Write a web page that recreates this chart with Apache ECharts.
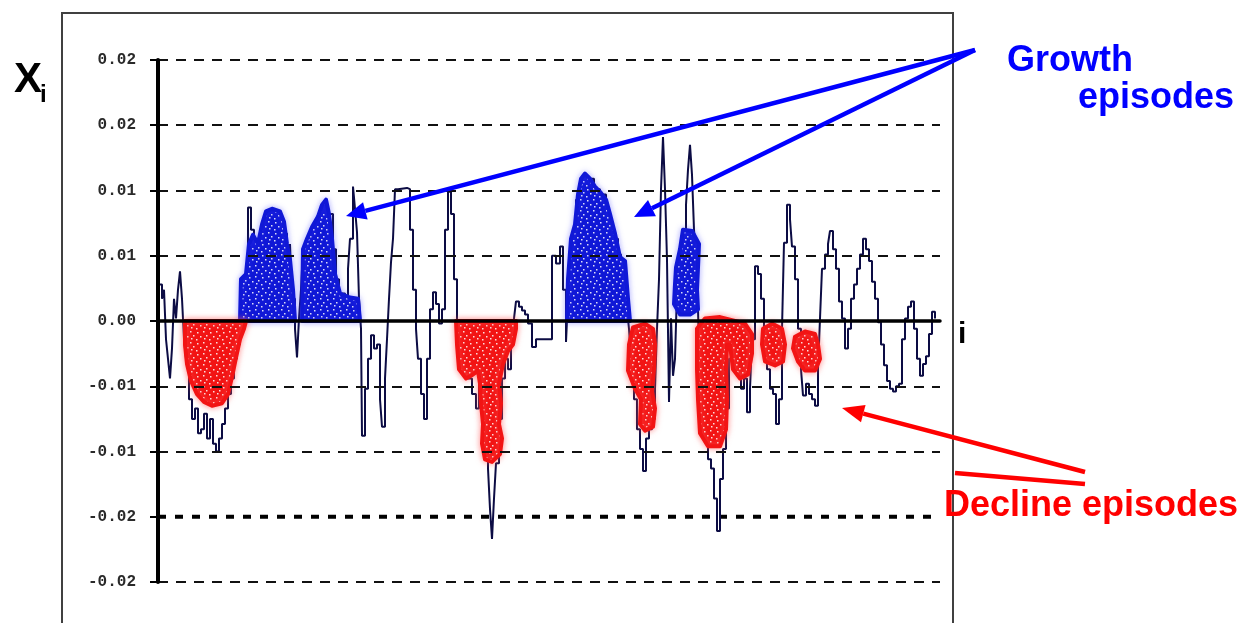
<!DOCTYPE html>
<html>
<head>
<meta charset="utf-8">
<script src="https://cdn.jsdelivr.net/npm/echarts@6/dist/echarts.min.js"></script>
<style>
  html, body { margin: 0; padding: 0; background: #fff; }
  #chart { width: 1249px; height: 623px; }
</style>
</head>
<body>
<div id="chart"></div>
<script>
// Time index i and the series value X_i at each index
const indexI = [1,4,6,8,10,12,14,16,18,20,22,24,26,28,31,34,37,40,43,46,49,52,55,58,61,64,67,70,73,76,79,82,84,87,90,93,96,99,102,105,108,111,114,117,120,123,126,129,132,134,137,139,141,143,145,148,151,154,157,160,163,166,169,172,175,178,181,184,187,190,192,195,197,199,201,203,204,207,210,213,216,219,222,224,227,229,231,233,235,237,240,249,252,255,258,260,263,266,269,272,275,278,281,284,287,290,293,296,299,302,306,310,314,318,321,324,327,330,332,334,336,338,341,344,347,350,353,356,358,361,364,367,370,374,378,394,398,402,405,408,410,412,415,418,421,424,427,430,433,436,439,442,445,448,451,454,457,460,463,466,469,471,473,476,479,482,485,488,491,494,497,499,501,503,505,507,509,511,513,515,517,519,522,525,528,530,532,534,536,538,540,542,544,547,550,553,556,559,562,565,568,571,574,577,580,583,586,589,592,594,597,600,603,606,609,612,615,618,621,624,626,629,632,634,637,640,643,645,648,651,654,657,660,662,664,667,670,672,675,678,681,684,687,690,693,696,699,702,705,708,711,714,717,720,723,726,729,732,735,738,741,744,747,750,753,756,759,762,765,768,771,774,777];
const valuesX = [0.0028,0.0017,0.0024,-0.0014,-0.0029,-0.0044,-0.0021,0.0017,0.0002,0.0024,0.0038,0.0017,-0.0014,-0.0029,-0.0060,-0.0075,-0.0067,-0.0086,-0.0083,-0.0071,-0.0090,-0.0075,-0.0094,-0.0100,-0.0090,-0.0079,-0.0067,-0.0056,-0.0044,-0.0029,-0.0018,-0.0010,0.0017,0.0032,0.0087,0.0070,0.0055,0.0063,0.0040,0.0074,0.0084,0.0063,0.0082,0.0070,0.0084,0.0055,0.0067,0.0040,0.0059,0.0017,-0.0006,-0.0028,0.0002,0.0024,0.0055,0.0063,0.0047,0.0069,0.0059,0.0076,0.0082,0.0092,0.0074,0.0082,0.0055,0.0032,0.0017,0.0021,0.0013,0.0040,0.0063,0.0103,0.0086,0.0068,0.0017,-0.0006,-0.0088,-0.0052,-0.0029,-0.0011,-0.0021,-0.0018,-0.0060,-0.0081,-0.0044,-0.0014,0.0017,0.0045,0.0063,0.0101,0.0102,0.0101,0.0070,0.0024,-0.0006,-0.0029,-0.0056,-0.0075,-0.0029,0.0009,0.0022,0.0013,-0.0002,0.0009,0.0070,0.0099,0.0082,0.0032,-0.0014,-0.0033,-0.0041,-0.0044,-0.0056,-0.0067,-0.0044,-0.0083,-0.0106,-0.0113,-0.0144,-0.0167,-0.0136,-0.0109,-0.0075,-0.0044,-0.0029,-0.0037,-0.0014,0.0002,0.0015,0.0011,0.0008,0.0005,-0.0002,-0.0020,-0.0014,0.0050,0.0044,0.0057,0.0024,-0.0016,0.0017,0.0047,0.0070,0.0093,0.0105,0.0111,0.0109,0.0097,0.0109,0.0093,0.0101,0.0086,0.0097,0.0082,0.0074,0.0070,0.0063,0.0051,0.0046,0.0024,0.0009,-0.0006,-0.0029,-0.0060,-0.0083,-0.0098,-0.0115,-0.0090,-0.0083,-0.0075,-0.0052,-0.0006,0.0032,0.0101,0.0141,0.0101,0.0047,-0.0062,0.0002,-0.0042,-0.0029,0.0024,0.0047,0.0070,0.0089,0.0116,0.0135,0.0112,0.0070,0.0047,0.0009,-0.0052,-0.0067,-0.0090,-0.0106,-0.0113,-0.0136,-0.0161,-0.0121,-0.0098,-0.0067,-0.0029,-0.0006,-0.0014,-0.0029,-0.0052,-0.0044,-0.0070,-0.0052,-0.0014,0.0042,0.0036,0.0017,-0.0021,-0.0037,-0.0052,-0.0056,-0.0079,-0.0060,-0.0006,0.0060,0.0089,0.0078,0.0057,0.0032,-0.0006,-0.0037,-0.0057,-0.0048,-0.0056,-0.0060,-0.0065,-0.0037,0.0002,0.0040,0.0051,0.0059,0.0069,0.0055,0.0040,0.0015,0.0002,-0.0021,-0.0006,0.0017,0.0028,0.0040,0.0051,0.0063,0.0055,0.0046,0.0030,0.0017,-0.0001,-0.0018,-0.0034,-0.0046,-0.0052,-0.0054,-0.0050,-0.0048,-0.0014,0.0002,0.0011,0.0015,-0.0006,-0.0029,-0.0042,-0.0033,-0.0027,-0.0010,0.0007,0.0002];

// Outline of each growth episode, as [i, X_i] vertices
const growthEpisodes = [
  [[82,0],[83,0.0032],[88,0.0036],[91,0.0059],[95,0.0066],[100,0.0059],[104,0.0074],[108,0.0084],[114,0.0086],[122,0.0084],[126,0.0076],[129,0.0059],[132,0.0047],[135,0.0024],[137,0]],
  [[144,0],[145,0.0055],[149,0.0063],[154,0.0072],[160,0.0080],[164,0.0089],[168,0.0093],[171,0.0082],[174,0.0063],[177,0.0036],[182,0.0021],[192,0.0018],[200,0.0017],[202,0]],
  [[409,0],[410,0.0032],[413,0.0063],[417,0.0074],[420,0.0097],[423,0.0109],[427,0.0113],[432,0.0109],[437,0.0103],[442,0.0099],[448,0.0093],[452,0.0082],[457,0.0067],[462,0.0049],[467,0.0046],[470,0.0017],[472,0]],
  [[525,0.0070],[534,0.0069],[541,0.0059],[540,0.0041],[539,0.0024],[540,0.0009],[532,0.0005],[522,0.0005],[516,0.0013],[517,0.0028],[518,0.0041],[522,0.0055]]
];

// Outline of each decline episode
const declineEpisodes = [
  [[27,0],[27,-0.0018],[29,-0.0033],[33,-0.0046],[39,-0.0056],[46,-0.0062],[54,-0.0065],[64,-0.0063],[70,-0.0056],[74,-0.0043],[78,-0.0028],[82,-0.0014],[86,-0.0006],[88,0]],
  [[298,0],[299,-0.0018],[301,-0.0037],[308,-0.0044],[315,-0.0041],[320,-0.0038],[322,-0.0048],[323,-0.0063],[325,-0.0079],[324,-0.0094],[327,-0.0106],[334,-0.0108],[342,-0.0102],[344,-0.0090],[341,-0.0079],[343,-0.0063],[341,-0.0048],[345,-0.0033],[350,-0.0023],[355,-0.0018],[358,-0.0006],[358,0]],
  [[475,-0.0005],[487,-0.0002],[495,-0.0006],[497,-0.0018],[496,-0.0037],[494,-0.0054],[497,-0.0067],[495,-0.0081],[487,-0.0084],[482,-0.0079],[483,-0.0060],[477,-0.0052],[470,-0.0038],[471,-0.0018]],
  [[539,-0.0006],[547,0.0002],[562,0.0003],[577,0],[587,-0.0002],[594,-0.0010],[594,-0.0025],[590,-0.0041],[582,-0.0044],[575,-0.0037],[572,-0.0018],[569,-0.0018],[568,-0.0037],[569,-0.0060],[568,-0.0083],[562,-0.0096],[550,-0.0096],[542,-0.0086],[540,-0.0060],[539,-0.0037]],
  [[605,-0.0006],[614,-0.0002],[624,-0.0006],[627,-0.0018],[625,-0.0031],[617,-0.0034],[607,-0.0031],[604,-0.0018]],
  [[637,-0.0012],[647,-0.0008],[657,-0.0010],[660,-0.0018],[662,-0.0029],[657,-0.0038],[647,-0.0038],[640,-0.0031],[635,-0.0021]]
];

// The one reference level drawn with a heavier dash, and the extent of the index axis
const heavyLevel = -0.015;
const indexRange = [0, 782];

// Split line colours from the bottom level upward; the heavy level is drawn by its own series
const splitColors = ['#111', 'rgba(0,0,0,0)', '#111', '#111', '#111', '#111', '#111', '#111', '#111'];

// Dotted fill for the episode clouds
function speckle(color) {
  const c = document.createElement('canvas');
  c.width = 13; c.height = 11;
  const g = c.getContext('2d');
  g.fillStyle = color;
  g.fillRect(0, 0, 13, 11);
  g.fillStyle = 'rgba(255,255,255,0.85)';
  [[2,2],[8,1],[5,6],[11,5],[1,9],[9,8]].forEach(([x, y]) => g.fillRect(x, y, 1.5, 1.5));
  return c;
}

function episodeSeries(name, polys, color, halo) {
  const pattern = { image: speckle(color), repeat: 'repeat' };
  return {
    type: 'custom',
    name: name,
    z: 4,
    silent: true,
    data: polys.map((p, k) => [p[0][0], p[0][1], k]),
    renderItem: function (params, api) {
      const pts = polys[params.dataIndex].map(p => api.coord(p));
      return {
        type: 'polygon',
        shape: { points: pts },
        style: {
          fill: pattern,
          stroke: color,
          lineWidth: 4,
          lineJoin: 'round',
          shadowBlur: 6,
          shadowColor: halo
        }
      };
    }
  };
}

function arrow(x1, y1, x2, y2, color, w, head, half) {
  const dx = x2 - x1, dy = y2 - y1, L = Math.hypot(dx, dy);
  const ux = dx / L, uy = dy / L;
  const bx = x2 - ux * head, by = y2 - uy * head;
  return [
    { type: 'line', z: 100, shape: { x1: x1, y1: y1, x2: bx, y2: by }, style: { stroke: color, lineWidth: w } },
    { type: 'polygon', z: 100, shape: { points: [[x2, y2], [bx - uy * half, by + ux * half], [bx + uy * half, by - ux * half]] }, style: { fill: color } }
  ];
}

function label(text, x, baseline, size, color) {
  return {
    type: 'text', z: 100, x: x, y: baseline - 0.3465 * size,
    style: { text: text, fill: color, font: 'bold ' + size + 'px "Liberation Sans", Arial, sans-serif', align: 'left', verticalAlign: 'middle' }
  };
}

const chart = echarts.init(document.getElementById('chart'), null, { renderer: 'canvas' });

chart.setOption({
  animation: false,
  grid: { left: 158, top: 60, width: 782, height: 522 },
  xAxis: {
    type: 'value', min: indexRange[0], max: indexRange[1], z: 10,
    axisLine: { show: true, onZero: true, lineStyle: { color: '#000', width: 3.5 } },
    axisTick: { show: false }, axisLabel: { show: false }, splitLine: { show: false }
  },
  yAxis: {
    type: 'value', min: -0.02, max: 0.02, interval: 0.005, z: 10,
    axisLine: { show: true, lineStyle: { color: '#000', width: 4 } },
    axisTick: { show: true, length: 8, lineStyle: { color: '#000', width: 2 } },
    axisLabel: {
      margin: 22, color: '#2a2a2a', fontFamily: '"Liberation Mono", monospace', fontWeight: 'bold', fontSize: 16,
      formatter: function (v) {
        const r = Math.sign(v) * Math.round(Math.abs(v) * 100 + 1e-9) / 100;
        return r.toFixed(2);
      }
    },
    splitLine: { show: true, lineStyle: { color: splitColors, width: 2, type: [10, 8] } }
  },
  series: [
    {
      type: 'line', name: 'heavy level', z: 1, silent: true, symbol: 'none',
      lineStyle: { color: '#000', width: 4, type: [8, 9] },
      data: indexRange.map(i => [i, heavyLevel])
    },
    {
      type: 'line', name: 'X_i', z: 2, step: 'end', symbol: 'none',
      lineStyle: { color: '#0c0c44', width: 2 },
      data: indexI.map((i, k) => [i, valuesX[k]])
    },
    episodeSeries('Growth episodes', growthEpisodes, '#1018d6', 'rgba(60,60,255,0.35)'),
    episodeSeries('Decline episodes', declineEpisodes, '#f21414', 'rgba(255,90,90,0.6)')
  ],
  graphic: [
    { type: 'rect', z: 90, shape: { x: 62, y: 13, width: 891, height: 660 }, style: { fill: 'none', stroke: '#404040', lineWidth: 2 } },
    label('X', 14, 95, 42, '#000'),
    label('i', 40, 104, 24, '#000'),
    label('i', 958, 345, 30, '#000'),
    label('Growth', 1007, 74, 36, '#0000ff'),
    label('episodes', 1078, 111, 36, '#0000ff'),
    label('Decline episodes', 944, 519, 36, '#ff0000'),
    ...arrow(975, 50, 346, 216, '#0000ff', 4.5, 20, 9),
    ...arrow(975, 50, 634, 217, '#0000ff', 4.5, 20, 9),
    ...arrow(1085, 472, 842, 408, '#ff0000', 4.5, 22, 9),
    { type: 'line', z: 100, shape: { x1: 955, y1: 473, x2: 1085, y2: 484 }, style: { stroke: '#ff0000', lineWidth: 4.5 } }
  ]
});
</script>
</body>
</html>
